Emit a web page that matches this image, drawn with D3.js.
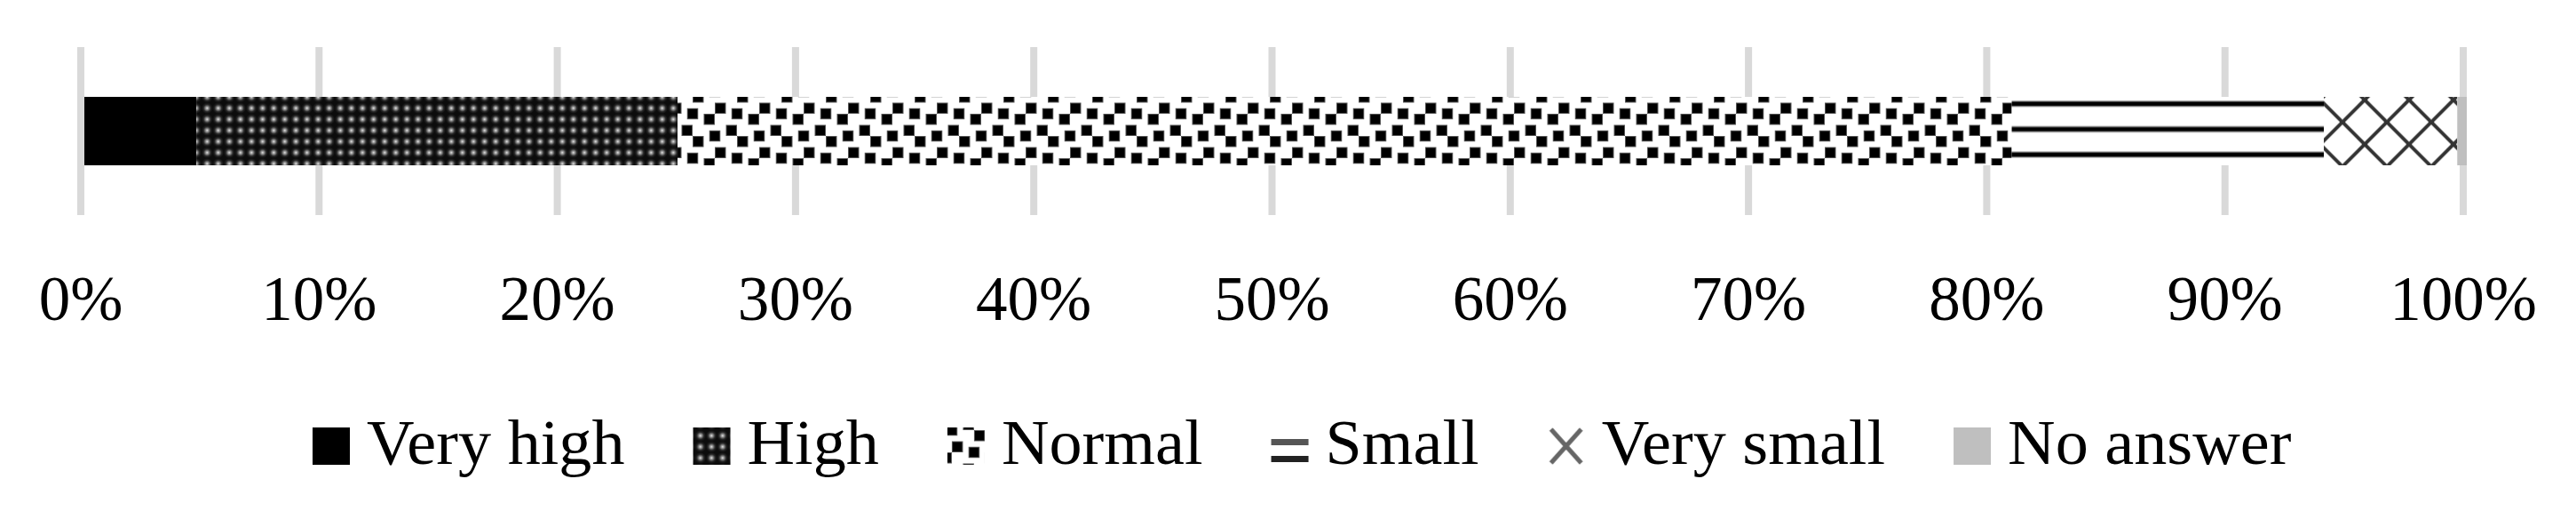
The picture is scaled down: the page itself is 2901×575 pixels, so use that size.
<!DOCTYPE html>
<html>
<head>
<meta charset="utf-8">
<title>Stacked bar</title>
<script src="https://d3js.org/d3.v7.min.js"></script>
<style>
  body { margin: 0; background: #fff; }
</style>
</head>
<body>
<div id="chart"></div>
<script>
// data
let categories = ["Very high", "High", "Normal", "Small", "Very small", "No answer"];
let values = [4.7, 20.2, 56.0, 13.1, 5.6, 0.4];
let tickValues = [0, 10, 20, 30, 40, 50, 60, 70, 80, 90, 100];
let tickLabels = ["0%", "10%", "20%", "30%", "40%", "50%", "60%", "70%", "80%", "90%", "100%"];

let W = 2901, H = 575;
let fontFam = "'Liberation Serif', 'Times New Roman', serif";

let svg = d3.select("#chart").append("svg")
    .attr("width", W)
    .attr("height", H);

let x = d3.scaleLinear().domain([0, 100]).range([95, 2778]);
let y = d3.scaleBand().domain(["row"]).range([53, 242]).padding(0.421);

// patterns (Excel-like fills)
let defs = svg.append("defs");

let grad = defs.append("radialGradient").attr("id", "dotGrad");
grad.append("stop").attr("offset", "0%").attr("stop-color", "#e8e8e8");
grad.append("stop").attr("offset", "30%").attr("stop-color", "#8a8a8a");
grad.append("stop").attr("offset", "65%").attr("stop-color", "#262626");
grad.append("stop").attr("offset", "100%").attr("stop-color", "#0c0c0c");

let pHigh = defs.append("pattern").attr("id", "p-high")
    .attr("patternUnits", "userSpaceOnUse")
    .attr("x", 2).attr("y", 3)
    .attr("width", 12.5).attr("height", 12.5);
pHigh.append("rect").attr("width", 12.5).attr("height", 12.5).attr("fill", "#0c0c0c");
pHigh.append("rect").attr("width", 12.5).attr("height", 12.5)
    .attr("fill", "url(#dotGrad)");

// large confetti, 8x8 cells
let confetti = [[4, 0], [7, 7], [0, 2], [3, 3], [6, 4], [2, 6]];
let cell = 6.25;
let pNormal = defs.append("pattern").attr("id", "p-normal")
    .attr("patternUnits", "userSpaceOnUse")
    .attr("x", 5).attr("y", 3)
    .attr("width", 8 * cell).attr("height", 8 * cell);
pNormal.append("rect").attr("width", 8 * cell).attr("height", 8 * cell).attr("fill", "#fff");
confetti.forEach(function(c) {
    [[0, 0], [-8, 0], [0, -8], [-8, -8]].forEach(function(o) {
        pNormal.append("rect")
            .attr("x", (c[0] + o[0]) * cell)
            .attr("y", (c[1] + o[1]) * cell)
            .attr("width", 2 * cell)
            .attr("height", 2 * cell)
            .attr("fill", "#555");
        pNormal.append("rect")
            .attr("x", (c[0] + o[0]) * cell + 1)
            .attr("y", (c[1] + o[1]) * cell + 1)
            .attr("width", 2 * cell - 2)
            .attr("height", 2 * cell - 2)
            .attr("fill", "#000");
    });
});

let pSmall = defs.append("pattern").attr("id", "p-small")
    .attr("patternUnits", "userSpaceOnUse")
    .attr("x", 0).attr("y", 109 % 28.6)
    .attr("width", 50).attr("height", 28.6);
pSmall.append("rect").attr("width", 50).attr("height", 28.6).attr("fill", "#fff");
pSmall.append("rect").attr("y", 4.3).attr("width", 50).attr("height", 7).attr("fill", "#888");
pSmall.append("rect").attr("y", 5.5).attr("width", 50).attr("height", 4.6).attr("fill", "#000");

let pVSmall = defs.append("pattern").attr("id", "p-vsmall")
    .attr("patternUnits", "userSpaceOnUse")
    .attr("x", 2638 % 50).attr("y", 137.4 % 50)
    .attr("width", 50).attr("height", 50);
pVSmall.append("rect").attr("width", 50).attr("height", 50).attr("fill", "#fff");
[-50, 0, 50].forEach(function(k) {
    pVSmall.append("line").attr("x1", k - 10).attr("y1", -10).attr("x2", k + 60).attr("y2", 60)
        .attr("stroke", "#333").attr("stroke-width", 4);
    pVSmall.append("line").attr("x1", k + 60).attr("y1", -10).attr("x2", k - 10).attr("y2", 60)
        .attr("stroke", "#333").attr("stroke-width", 4);
});

// legend-only fills
let kSmall = defs.append("pattern").attr("id", "k-small")
    .attr("patternUnits", "userSpaceOnUse")
    .attr("width", 42).attr("height", 42);
kSmall.append("rect").attr("width", 42).attr("height", 42).attr("fill", "#fff");
[13, 32].forEach(function(yy, i) {
    kSmall.append("rect").attr("y", yy).attr("width", 42).attr("height", 7)
        .attr("fill", i == 0 ? "#555" : "#222");
});
let kVSmall = defs.append("pattern").attr("id", "k-vsmall")
    .attr("patternUnits", "userSpaceOnUse")
    .attr("width", 42).attr("height", 42);
kVSmall.append("rect").attr("width", 42).attr("height", 42).attr("fill", "#fff");
kVSmall.append("line").attr("x1", 4).attr("y1", 2).attr("x2", 38).attr("y2", 40)
    .attr("stroke", "#666").attr("stroke-width", 5);
kVSmall.append("line").attr("x1", 38).attr("y1", 2).attr("x2", 4).attr("y2", 40)
    .attr("stroke", "#666").attr("stroke-width", 5);

let fills = ["#000", "url(#p-high)", "url(#p-normal)", "url(#p-small)", "url(#p-vsmall)", "#bfbfbf"];
let keyFills = ["#000", "url(#p-high)", "url(#p-normal)", "url(#k-small)", "url(#k-vsmall)", "#bfbfbf"];

// gridlines
svg.append("g").selectAll("rect")
    .data(tickValues)
    .enter()
    .append("rect")
    .attr("x", function(d) { return x(d) - 8; })
    .attr("y", y.range()[0])
    .attr("width", 8)
    .attr("height", y.range()[1] - y.range()[0])
    .attr("fill", "#d9d9d9");

// stacked bar
let ends = d3.cumsum(values);
let segs = values.map(function(v, i) {
    return {name: categories[i], x0: ends[i] - v, x1: ends[i], fill: fills[i]};
});

svg.append("g").selectAll("rect")
    .data(segs)
    .enter()
    .append("rect")
    .attr("x", function(d) { return x(d.x0); })
    .attr("y", y("row"))
    .attr("width", function(d) { return x(d.x1) - x(d.x0); })
    .attr("height", y.bandwidth())
    .attr("fill", function(d) { return d.fill; });

// axis labels
svg.append("g").selectAll("text")
    .data(tickValues)
    .enter()
    .append("text")
    .attr("x", function(d) { return x(d) - 4; })
    .attr("y", 360)
    .attr("text-anchor", "middle")
    .attr("font-family", fontFam)
    .attr("font-size", "71px")
    .attr("fill", "#000")
    .text(function(d, i) { return tickLabels[i]; });

// legend
let legend = svg.append("g");
let lx = 352;
let stretch = 1.045;
categories.forEach(function(c, i) {
    let item = legend.append("g").attr("transform", "translate(" + lx + ",481)");
    item.append("rect")
        .attr("width", 42).attr("height", 42)
        .attr("fill", keyFills[i]);
    let t = item.append("text")
        .attr("transform", "translate(61,41) scale(" + stretch + ",1)")
        .attr("font-family", fontFam)
        .attr("font-size", "71px")
        .attr("fill", "#000")
        .text(c);
    lx += 61 + t.node().getComputedTextLength() * stretch + 77;
});
</script>
</body>
</html>
